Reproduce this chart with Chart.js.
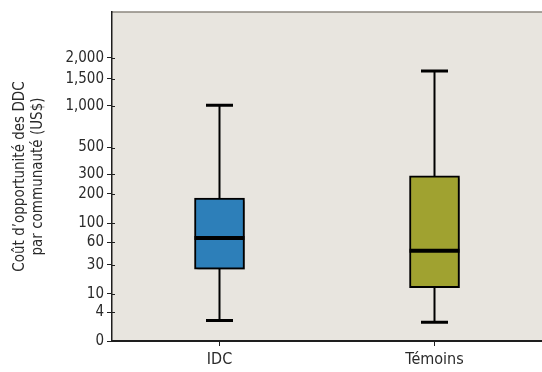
<!DOCTYPE html>
<html>
<head>
  <meta charset="utf-8">
  <title>Coût d'opportunité des DDC</title>
  <script src="https://cdn.jsdelivr.net/npm/chart.js"></script>
  <style>
    body {
      margin: 0;
      background: #fff;
    }
    .chart-container {
      width: 542px;
      height: 372px;
    }
  </style>
</head>
<body>
  <div class="chart-container">
    <canvas id="myChart"></canvas>
  </div>
  <script>
    const groups = ['IDC', 'Témoins'];
    const whiskerLow = [2.3, 2];
    const quartile1 = [26, 13];
    const medians = [68, 47];
    const quartile3 = [182, 292];
    const whiskerHigh = [1010, 1670];
    const tickValues = [0, 4, 10, 30, 60, 100, 200, 300, 500, 1000, 1500, 2000];
    const boxColors = ['#2d7fb9', '#a0a230'];

    const FONT = "'Liberation Sans Narrow', 'DejaVu Sans Condensed', 'Liberation Sans', sans-serif";
    const INK = '#1e1e1e';

    // the value axis is compressed like a power curve: (v + 1)^0.21
    const EXP = 0.21;
    const tf = v => Math.pow(Math.max(v, 0) + 1, EXP) - 1;
    const inv = t => Math.pow(t + 1, 1 / EXP) - 1;

    class PowerScale extends Chart.LinearScale {
      buildTicks() {
        this.start = this.min;
        this.end = this.max;
        return tickValues.map(v => ({ value: v }));
      }
      configure() {
        super.configure();
        this._tStart = tf(this.min);
        this._tRange = tf(this.max) - this._tStart;
      }
      getPixelForValue(value) {
        return this.getPixelForDecimal((tf(value) - this._tStart) / this._tRange);
      }
      getValueForPixel(pixel) {
        return inv(this.getDecimalForPixel(pixel) * this._tRange + this._tStart);
      }
    }
    PowerScale.id = 'power';
    PowerScale.defaults = {};
    Chart.register(PowerScale);

    const plotFrame = {
      id: 'plotFrame',
      beforeDraw(chart) {
        const { ctx, chartArea: a } = chart;
        ctx.save();
        ctx.fillStyle = '#e8e5df';
        ctx.fillRect(a.left, a.top, a.right - a.left, a.bottom - a.top);
        ctx.strokeStyle = '#8c877f';
        ctx.lineWidth = 1.5;
        ctx.beginPath();
        ctx.moveTo(a.left, a.top);
        ctx.lineTo(a.right, a.top);
        ctx.stroke();
        ctx.restore();
      },
      afterDraw(chart) {
        // short inner part of the y ticks, so they cross the axis
        const { ctx, chartArea: a, scales: { y } } = chart;
        ctx.save();
        ctx.strokeStyle = INK;
        ctx.lineWidth = 1;
        y.ticks.forEach(t => {
          const py = Math.round(y.getPixelForValue(t.value)) + 0.5;
          ctx.beginPath();
          ctx.moveTo(a.left, py);
          ctx.lineTo(a.left + 3, py);
          ctx.stroke();
        });
        ctx.restore();
      }
    };

    const boxParts = {
      id: 'boxParts',
      beforeDatasetsDraw(chart) {
        const { ctx, scales: { x, y } } = chart;
        ctx.save();
        ctx.strokeStyle = '#000';
        groups.forEach((g, i) => {
          const px = x.getPixelForValue(i);
          const lo = y.getPixelForValue(whiskerLow[i]);
          const hi = y.getPixelForValue(whiskerHigh[i]);
          ctx.lineWidth = 2;
          ctx.beginPath();
          ctx.moveTo(px, lo);
          ctx.lineTo(px, hi);
          ctx.stroke();
          ctx.lineWidth = 3;
          ctx.beginPath();
          ctx.moveTo(px - 13.5, lo);
          ctx.lineTo(px + 13.5, lo);
          ctx.moveTo(px - 13.5, hi);
          ctx.lineTo(px + 13.5, hi);
          ctx.stroke();
        });
        ctx.restore();
      },
      beforeDatasetDraw(chart) {
        const ctx = chart.ctx;
        ctx.save();
        ctx.shadowColor = 'rgba(0, 0, 0, 0.28)';
        ctx.shadowOffsetX = 3;
        ctx.shadowOffsetY = 3;
        ctx.shadowBlur = 2;
      },
      afterDatasetDraw(chart) {
        chart.ctx.restore();
      },
      afterDatasetsDraw(chart) {
        const { ctx, scales: { x, y } } = chart;
        ctx.save();
        ctx.strokeStyle = '#000';
        ctx.lineWidth = 4;
        groups.forEach((g, i) => {
          const px = x.getPixelForValue(i);
          const py = y.getPixelForValue(medians[i]);
          ctx.beginPath();
          ctx.moveTo(px - 25, py);
          ctx.lineTo(px + 25, py);
          ctx.stroke();
        });
        ctx.restore();
      }
    };

    const ctx = document.getElementById('myChart').getContext('2d');
    const chart = new Chart(ctx, {
      type: 'bar',
      data: {
        labels: groups,
        datasets: [{
          data: groups.map((g, i) => [quartile1[i], quartile3[i]]),
          backgroundColor: boxColors,
          borderColor: '#000',
          borderWidth: 2,
          borderSkipped: false,
          barThickness: 50
        }]
      },
      options: {
        responsive: true,
        maintainAspectRatio: false,
        animation: false,
        layout: { padding: { top: 9, right: 0, left: 0, bottom: 0 } },
        plugins: {
          legend: { display: false },
          tooltip: { enabled: false }
        },
        scales: {
          x: {
            grid: { offset: false, drawOnChartArea: false, tickLength: 5, color: INK },
            border: { color: INK, width: 2 },
            ticks: { color: '#2a2a2a', padding: 4, font: { family: FONT, size: 16 } },
            afterFit: s => { s.height = 31; }
          },
          y: {
            type: 'power',
            min: 0,
            max: 3570,
            grid: { drawOnChartArea: false, tickLength: 5, color: INK },
            border: { color: INK, width: 1.5 },
            ticks: {
              autoSkip: false,
              color: '#2a2a2a',
              padding: 3,
              font: { family: FONT, size: 15 },
              callback: v => v.toLocaleString('en-US')
            },
            title: {
              display: true,
              text: ['Coût d’opportunité des DDC', 'par communauté (US$)'],
              color: '#2a2a2a',
              padding: { top: 11, bottom: 0 },
              font: { family: FONT, size: 15, lineHeight: 1.2 }
            },
            afterFit: s => { s.width = 112; }
          }
        }
      },
      plugins: [plotFrame, boxParts]
    });
  </script>
</body>
</html>
